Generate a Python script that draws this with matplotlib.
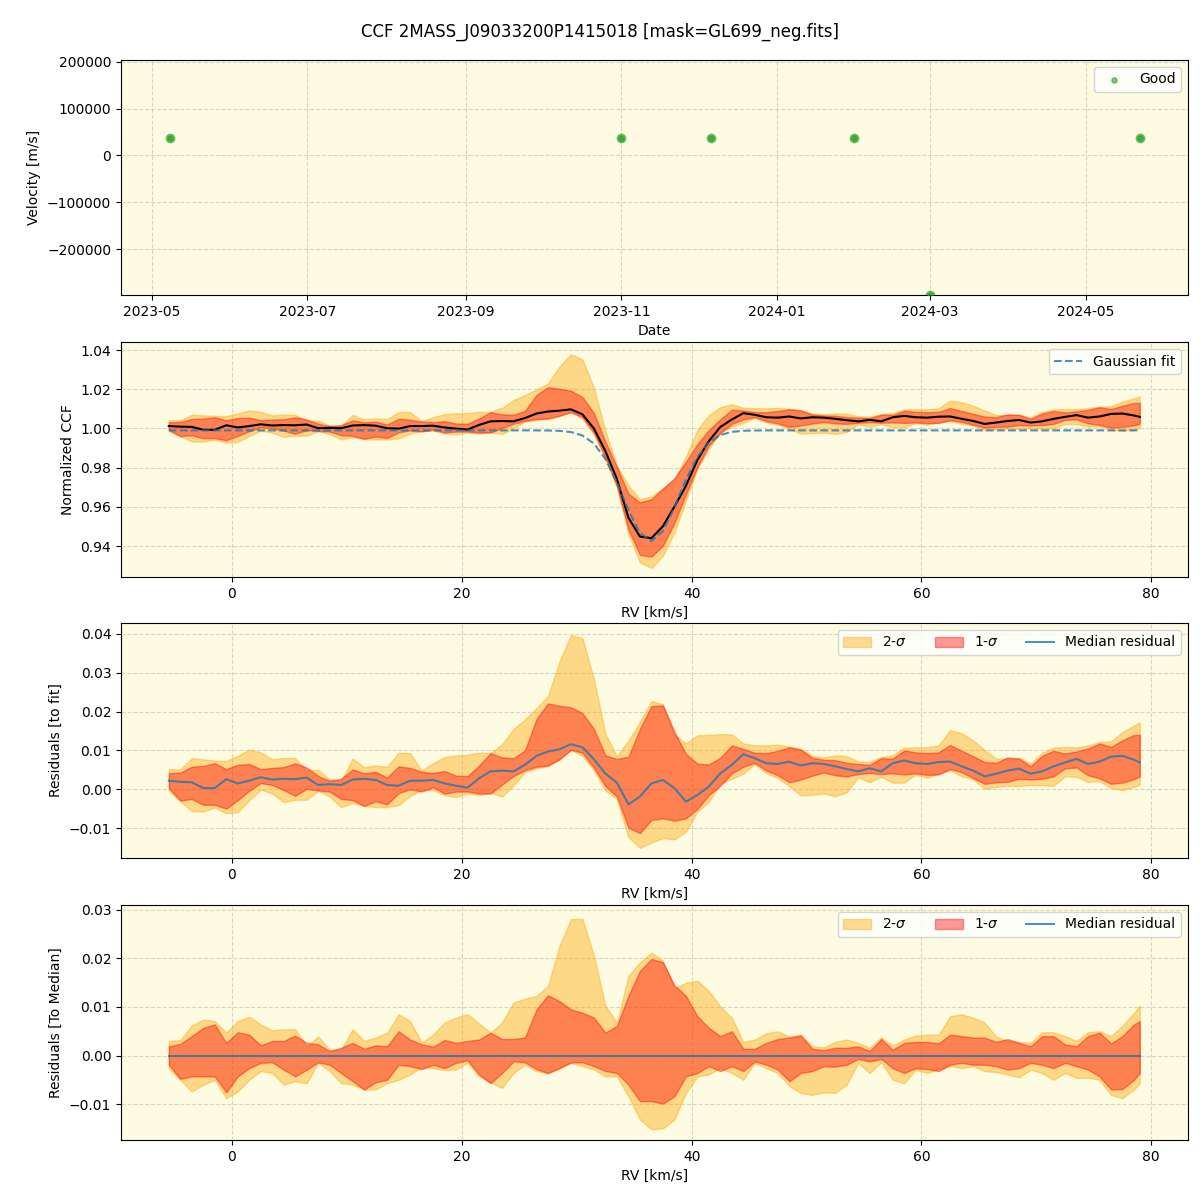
import numpy as np
import matplotlib
matplotlib.use("Agg")
import matplotlib.pyplot as plt
import matplotlib.dates as mdates
from datetime import datetime

# ---------------- data ----------------
obs_dates = ["2023-05-08", "2023-11-01", "2023-12-06", "2024-01-31", "2024-03-01", "2024-05-22"]
obs_vel = [37500, 37500, 37500, 37500, -298000, 37500]

rv = np.append(np.arange(-5.5, 79.0, 1.0), 79.0)

# Gaussian fit parameters
fit_base = 0.999
fit_depth = 0.0565
fit_center = 36.45
fit_sigma = 2.4

med_resid = [
    0.0022, 0.0019, 0.0018, 0.0003, 0.0003, 0.0026, 0.0015, 0.0022, 0.0031, 0.0025,
    0.0027, 0.0026, 0.0030, 0.0011, 0.0013, 0.0011, 0.0025, 0.0027, 0.0024, 0.0011,
    0.0009, 0.0022, 0.0022, 0.0024, 0.0015, 0.0009, 0.0004, 0.0028, 0.0046, 0.0048,
    0.0046, 0.0063, 0.0086, 0.0097, 0.0103, 0.0116, 0.0108, 0.0077, 0.0040, 0.0017,
    -0.0039, -0.0019, 0.0015, 0.0024, 0.0003, -0.0032, -0.0015, 0.0007, 0.0041, 0.0063,
    0.0090, 0.0080, 0.0067, 0.0065, 0.0071, 0.0061, 0.0067, 0.0065, 0.0059, 0.0052,
    0.0046, 0.0054, 0.0046, 0.0067, 0.0074, 0.0067, 0.0065, 0.0070, 0.0071, 0.0059,
    0.0048, 0.0033, 0.0040, 0.0048, 0.0053, 0.0040, 0.0046, 0.0059, 0.0069, 0.0078,
    0.0065, 0.0071, 0.0084, 0.0086, 0.0076, 0.0069]

up2 = [
    0.0030, 0.0032, 0.0062, 0.0074, 0.0071, 0.0047, 0.0071, 0.0080, 0.0064, 0.0052,
    0.0054, 0.0054, 0.0019, 0.0039, 0.0012, 0.0012, 0.0054, 0.0030, 0.0037, 0.0047,
    0.0085, 0.0071, 0.0026, 0.0043, 0.0068, 0.0078, 0.0085, 0.0066, 0.0047, 0.0068,
    0.0109, 0.0117, 0.0123, 0.0143, 0.0226, 0.0281, 0.0281, 0.0206, 0.0102, 0.0068,
    0.0164, 0.0192, 0.0212, 0.0195, 0.0138, 0.0150, 0.0154, 0.0133, 0.0101, 0.0078,
    0.0028, 0.0033, 0.0046, 0.0050, 0.0039, 0.0043, 0.0019, 0.0017, 0.0028, 0.0033,
    0.0026, 0.0016, 0.0037, 0.0021, 0.0033, 0.0041, 0.0043, 0.0043, 0.0081, 0.0085,
    0.0078, 0.0068, 0.0039, 0.0030, 0.0028, 0.0026, 0.0048, 0.0048, 0.0040, 0.0030,
    0.0048, 0.0050, 0.0040, 0.0061, 0.0088, 0.0103]

up1 = [
    0.0019, 0.0024, 0.0040, 0.0057, 0.0064, 0.0026, 0.0048, 0.0043, 0.0021, 0.0030,
    0.0030, 0.0041, 0.0026, 0.0023, 0.0009, 0.0016, 0.0026, 0.0014, 0.0021, 0.0019,
    0.0050, 0.0033, 0.0023, 0.0018, 0.0032, 0.0026, 0.0030, 0.0033, 0.0047, 0.0034,
    0.0034, 0.0037, 0.0095, 0.0124, 0.0112, 0.0095, 0.0088, 0.0078, 0.0047, 0.0061,
    0.0123, 0.0174, 0.0199, 0.0192, 0.0145, 0.0123, 0.0081, 0.0057, 0.0040, 0.0050,
    0.0014, 0.0014, 0.0026, 0.0034, 0.0037, 0.0041, 0.0014, 0.0011, 0.0016, 0.0016,
    0.0019, 0.0009, 0.0034, 0.0012, 0.0026, 0.0028, 0.0028, 0.0025, 0.0043, 0.0040,
    0.0037, 0.0037, 0.0028, 0.0034, 0.0026, 0.0019, 0.0040, 0.0040, 0.0023, 0.0019,
    0.0040, 0.0047, 0.0025, 0.0040, 0.0064, 0.0071]

lo1 = [
    -0.0019, -0.0048, -0.0043, -0.0043, -0.0043, -0.0076, -0.0043, -0.0026, -0.0015, -0.0014,
    -0.0029, -0.0043, -0.0029, -0.0014, -0.0019, -0.0036, -0.0053, -0.0070, -0.0055, -0.0050,
    -0.0019, -0.0022, -0.0028, -0.0019, -0.0026, -0.0015, -0.0010, -0.0039, -0.0057, -0.0036,
    -0.0012, -0.0014, -0.0028, -0.0036, -0.0026, -0.0014, -0.0014, -0.0022, -0.0032, -0.0036,
    -0.0060, -0.0094, -0.0094, -0.0099, -0.0084, -0.0043, -0.0036, -0.0022, -0.0032, -0.0022,
    -0.0032, -0.0012, -0.0019, -0.0029, -0.0053, -0.0036, -0.0032, -0.0022, -0.0023, -0.0019,
    -0.0007, -0.0012, -0.0007, -0.0026, -0.0036, -0.0026, -0.0028, -0.0032, -0.0019, -0.0015,
    -0.0019, -0.0019, -0.0022, -0.0029, -0.0026, -0.0015, -0.0019, -0.0026, -0.0015, -0.0022,
    -0.0029, -0.0043, -0.0070, -0.0069, -0.0050, -0.0036]

lo2 = [
    -0.0026, -0.0050, -0.0074, -0.0060, -0.0050, -0.0088, -0.0074, -0.0050, -0.0032, -0.0036,
    -0.0060, -0.0053, -0.0057, -0.0015, -0.0032, -0.0057, -0.0060, -0.0070, -0.0070, -0.0057,
    -0.0050, -0.0039, -0.0024, -0.0026, -0.0030, -0.0029, -0.0015, -0.0043, -0.0055, -0.0067,
    -0.0036, -0.0019, -0.0032, -0.0037, -0.0026, -0.0015, -0.0022, -0.0029, -0.0043, -0.0043,
    -0.0084, -0.0132, -0.0152, -0.0150, -0.0132, -0.0077, -0.0043, -0.0039, -0.0026, -0.0036,
    -0.0050, -0.0015, -0.0026, -0.0036, -0.0063, -0.0077, -0.0081, -0.0076, -0.0077, -0.0060,
    -0.0015, -0.0036, -0.0014, -0.0050, -0.0057, -0.0029, -0.0036, -0.0028, -0.0022, -0.0026,
    -0.0022, -0.0032, -0.0034, -0.0039, -0.0045, -0.0029, -0.0036, -0.0050, -0.0036, -0.0046,
    -0.0046, -0.0050, -0.0081, -0.0088, -0.0070, -0.0057]

# ---------------- derived ----------------
med_resid = np.array(med_resid)
up1, up2, lo1, lo2 = map(np.array, (up1, up2, lo1, lo2))
fit = fit_base - fit_depth * np.exp(-0.5 * ((rv - fit_center) / fit_sigma) ** 2)
ccf_med = fit + med_resid

BG = "#fdfbe2"
C2 = "orange"
C1 = "red"
A2 = 0.4
A1 = 0.4
BLUE = "#1f77b4"

fig = plt.figure(figsize=(12, 12), dpi=100)
fig.suptitle("CCF 2MASS_J09033200P1415018 [mask=GL699_neg.fits]", fontsize=12, y=0.981)

L, W, H = 121 / 1200, (1188 - 121) / 1200, 235 / 1200
bottoms = [1 - 295 / 1200, 1 - 577 / 1200, 1 - 858 / 1200, 1 - 1140 / 1200]
axes = [fig.add_axes([L, b, W, H]) for b in bottoms]
for ax in axes:
    ax.set_facecolor(BG)
    ax.grid(True, linestyle="--", alpha=0.5)
    ax.set_axisbelow(True)

# Panel 1
ax = axes[0]
dts = [datetime.strptime(d, "%Y-%m-%d") for d in obs_dates]
ax.errorbar(dts, obs_vel, fmt="o", color="#2ca02c", alpha=0.7, ms=7, mew=0)
ax.scatter(dts, obs_vel, s=14, color="#2ca02c", alpha=0.6, label="Good", zorder=3)
ax.set_ylim(-298000, 204000)
ax.xaxis.set_major_locator(mdates.MonthLocator(bymonth=[1, 3, 5, 7, 9, 11]))
ax.xaxis.set_major_formatter(mdates.DateFormatter("%Y-%m"))
ax.set_xlabel("Date")
ax.set_ylabel("Velocity [m/s]")
ax.legend(loc="upper right")

# Panel 2
ax = axes[1]
ax.fill_between(rv, ccf_med + lo2, ccf_med + up2, color=C2, alpha=A2)
ax.fill_between(rv, ccf_med + lo1, ccf_med + up1, color=C1, alpha=A1)
ax.plot(rv, ccf_med, color="black", lw=1.5)
ax.plot(rv, fit, "--", color=BLUE, alpha=0.8, lw=1.5, label="Gaussian fit")
ax.set_ylim(0.9242, 1.0441)
ax.set_xlabel("RV [km/s]")
ax.set_ylabel("Normalized CCF")
ax.legend(loc="upper right")

# Panel 3
ax = axes[2]
ax.fill_between(rv, med_resid + lo2, med_resid + up2, color=C2, alpha=A2, label="2-$\\sigma$")
ax.fill_between(rv, med_resid + lo1, med_resid + up1, color=C1, alpha=A1, label="1-$\\sigma$")
ax.plot(rv, med_resid, color=BLUE, alpha=0.8, lw=1.5, label="Median residual")
ax.set_ylim(-0.0177, 0.0428)
ax.set_xlabel("RV [km/s]")
ax.set_ylabel("Residuals [to fit]")
ax.legend(loc="upper right", ncol=3)

# Panel 4
ax = axes[3]
ax.fill_between(rv, lo2, up2, color=C2, alpha=A2, label="2-$\\sigma$")
ax.fill_between(rv, lo1, up1, color=C1, alpha=A1, label="1-$\\sigma$")
ax.plot(rv, np.zeros_like(rv), color=BLUE, alpha=0.8, lw=1.5, label="Median residual")
ax.set_ylim(-0.0174, 0.031)
ax.set_xlabel("RV [km/s]")
ax.set_ylabel("Residuals [To Median]")
ax.legend(loc="upper right", ncol=3)

for ax in axes[1:]:
    ax.set_xlim(-9.66, 83.2)

fig.savefig("out.png", dpi=100)
